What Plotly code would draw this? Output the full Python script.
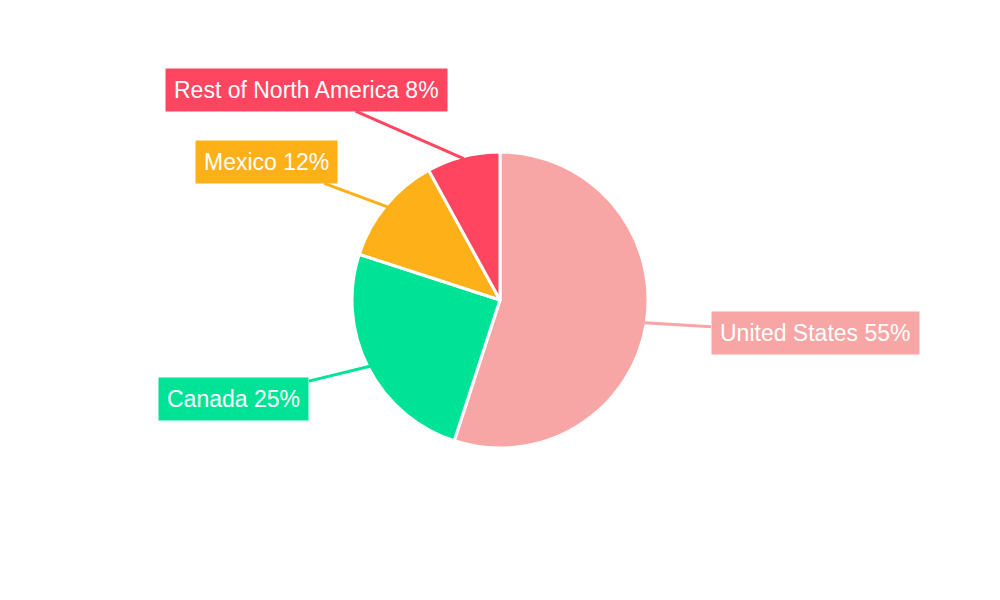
import math
import plotly.graph_objects as go

labels = ["United States", "Canada", "Mexico", "Rest of North America"]
values = [55, 25, 12, 8]
colors = ["#F8A5A5", "#00E396", "#FEB019", "#FF4560"]
# label offsets (pixels) from slice edge point
offsets = [(171, 10), (-136, 33), (-121, -45), (-157, -69)]

W, H = 1000, 600
cx, cy, r = 492, 292, 148

fig = go.Figure(go.Pie(
    labels=labels, values=values, sort=False, direction="clockwise", rotation=0,
    marker=dict(colors=colors, line=dict(color="white", width=3)),
    textinfo="none", hoverinfo="label+percent", showlegend=False,
    domain=dict(x=[(cx - r) / W, (cx + r) / W], y=[1 - (cy + r) / H, 1 - (cy - r) / H]),
))

total = sum(values)
cum = 0
anns = []
for lab, v, col, (ox, oy) in zip(labels, values, colors, offsets):
    mid = (cum + v / 2) / total
    cum += v
    ang = math.radians(90 - mid * 360)
    px = cx + 8 + (r - 2) * math.cos(ang)
    py = cy + 8 - (r - 2) * math.sin(ang)
    anns.append(dict(
        x=(px - 8) / W, y=1 - (py - 8) / H, xref="paper", yref="paper",
        ax=ox, ay=oy, showarrow=True, arrowhead=0, arrowwidth=3, arrowcolor=col,
        text=f"{lab} {round(v / total * 100)}%", bgcolor=col, borderpad=8,
        font=dict(color="white", size=23, family="Liberation Sans, Arial"),
    ))

fig.update_layout(width=W, height=H, margin=dict(l=0, r=0, t=0, b=0),
                  paper_bgcolor="white", plot_bgcolor="white", annotations=anns)
fig.write_html("out.html")
